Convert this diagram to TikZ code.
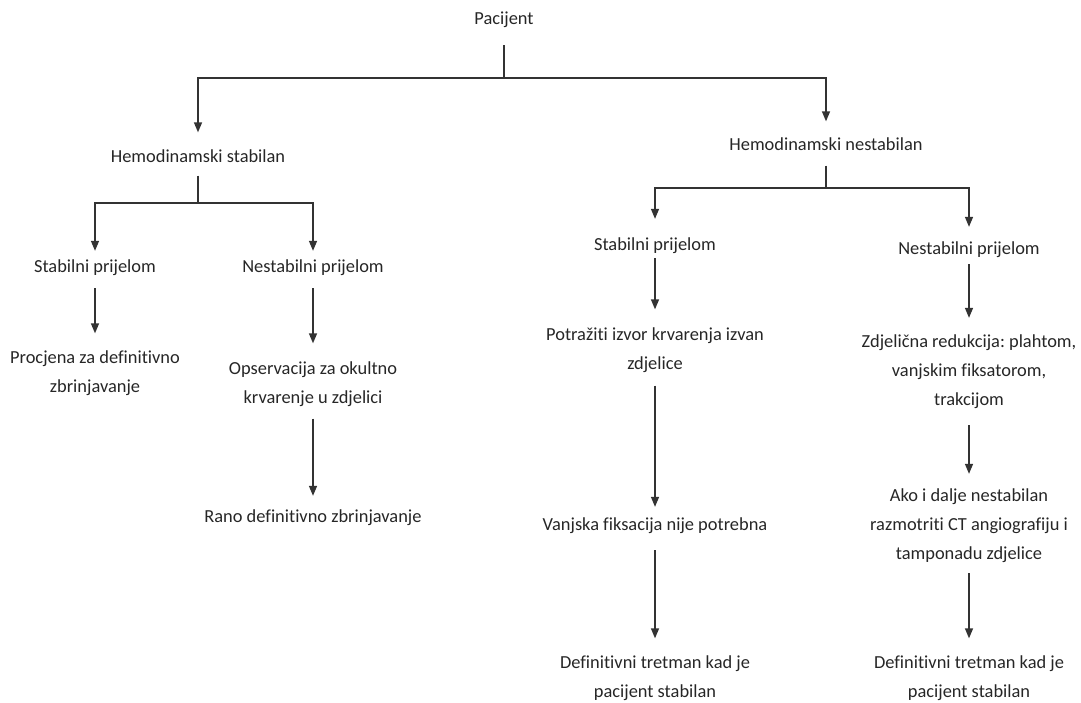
\documentclass[tikz,border=0pt]{standalone}
\usepackage{fontspec}
\setmainfont{Carlito}[Ligatures=NoCommon]
\frenchspacing
\usetikzlibrary{arrows.meta}
\begin{document}
\begin{tikzpicture}[x=1pt,y=-1pt,
  txt/.style={font=\fontsize{18.4}{29}\selectfont, text=black!85, align=center, inner sep=0pt},
  conn/.style={draw=black!80, line width=1.4pt},
  arr/.style={conn, -{Triangle[width=8pt,length=10pt]}}]
\useasboundingbox (0,0) rectangle (1081,702);
% nodes
\node[txt] (pac) at (504,20) {Pacijent};
\node[txt] (hs) at (198,156) {Hemodinamski stabilan};
\node[txt] (hn) at (826,144) {Hemodinamski nestabilan};
\node[txt] (slL) at (95,268) {Stabilni prijelom};
\node[txt] (nlL) at (313,268) {Nestabilni prijelom};
\node[txt] (pro) at (95,373) {Procjena za definitivno\\zbrinjavanje};
\node[txt] (ops) at (313,384) {Opservacija za okultno\\krvarenje u zdjelici};
\node[txt] (rano) at (313,518) {Rano definitivno zbrinjavanje};
\node[txt] (slR) at (655,246) {Stabilni prijelom};
\node[txt] (nlR) at (969,250) {Nestabilni prijelom};
\node[txt] (pot) at (655,350) {Potražiti izvor krvarenja izvan\\zdjelice};
\node[txt] (zdj) at (969,372) {Zdjelična redukcija: plahtom,\\vanjskim fiksatorom,\\trakcijom};
\node[txt] (vanj) at (655,526) {Vanjska fiksacija nije potrebna};
\node[txt] (ako) at (969,526) {Ako i dalje nestabilan\\razmotriti CT angiografiju i\\tamponadu zdjelice};
\node[txt] (defL) at (655,678) {Definitivni tretman kad je\\pacijent stabilan};
\node[txt] (defR) at (969,678) {Definitivni tretman kad je\\pacijent stabilan};
% junctions
\coordinate (j1) at (504,78);
\coordinate (j2) at (198,203);
\coordinate (j3) at (826,188);
% connectors
\draw[conn, shorten <=17pt] (pac.south) -- (j1);
\draw[arr, shorten >=17pt] (j1) -| (hs.north);
\draw[arr, shorten >=16pt] (j1) -| (hn.north);
\draw[conn, shorten <=13pt] (hs.south) -- (j2);
\draw[arr, shorten >=9pt] (j2) -| (slL.north);
\draw[arr, shorten >=9pt] (j2) -| (nlL.north);
\draw[conn, shorten <=15pt] (hn.south) -- (j3);
\draw[arr, shorten >=19pt] (j3) -| (slR.north);
\draw[arr, shorten >=15pt] (j3) -| (nlR.north);
\draw[arr, shorten <=12pt, shorten >=17pt] (slL) -- (pro);
\draw[arr, shorten <=12pt, shorten >=18pt] (nlL) -- (ops);
\draw[arr, shorten <=12pt, shorten >=14pt] (ops) -- (rano);
\draw[arr, shorten <=4pt, shorten >=18pt] (slR) -- (pot);
\draw[arr, shorten <=13pt, shorten >=11pt] (pot) -- (vanj);
\draw[arr, shorten <=16pt, shorten >=17pt] (vanj) -- (defL);
\draw[arr, shorten <=6pt, shorten >=17pt] (nlR) -- (zdj);
\draw[arr, shorten <=16pt, shorten >=15pt] (zdj) -- (ako);
\draw[arr, shorten <=10pt, shorten >=17pt] (ako) -- (defR);
\end{tikzpicture}
\end{document}
